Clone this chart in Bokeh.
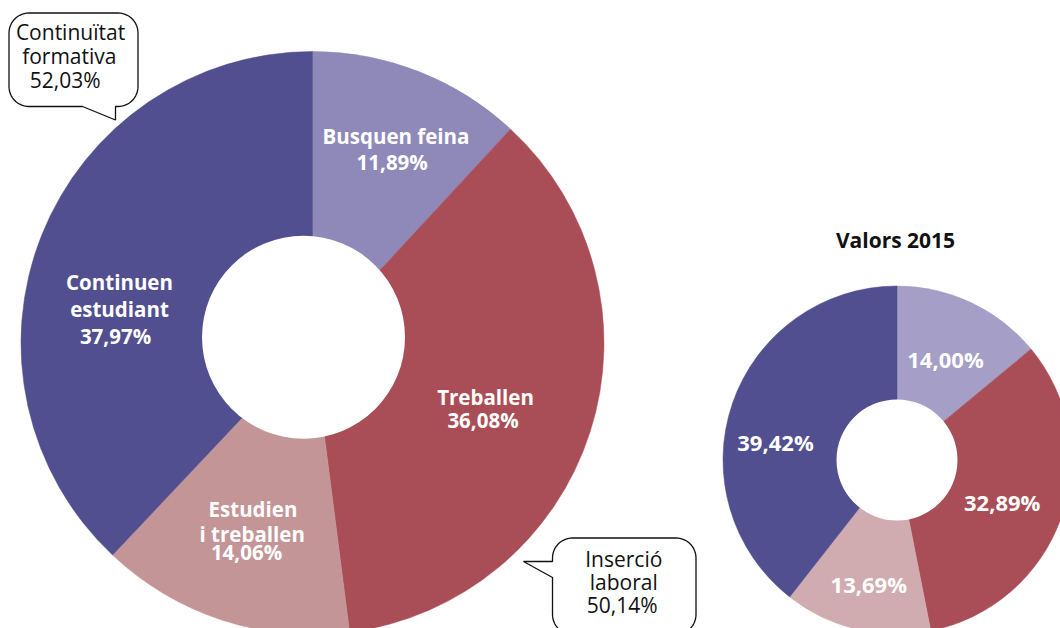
import numpy as np
from bokeh.plotting import figure
from bokeh.models import ColumnDataSource, Range1d
from bokeh.core.properties import value
from bokeh.embed import file_html
from bokeh.resources import INLINE

# ---------------- data ----------------
main_categories = ["Busquen feina", "Treballen", "Estudien i treballen", "Continuen estudiant"]
main_values = [11.89, 36.08, 14.06, 37.97]
main_labels = [["Busquen feina", "11,89%"], ["Treballen", "36,08%"],
               ["Estudien", "i treballen", "14,06%"], ["Continuen", "estudiant", "37,97%"]]
main_colors = ["#8F89B9", "#A94E57", "#C49597", "#514F8F"]

small_title = "Valors 2015"
small_values = [14.00, 32.89, 13.69, 39.42]
small_labels = ["14,00%", "32,89%", "13,69%", "39,42%"]
small_colors = ["#A59EC7", "#A94E57", "#D0ACB0", "#514F8F"]

callout_top = ["Continuïtat", "formativa", "52,03%"]
callout_bottom = ["Inserció", "laboral", "50,14%"]

# ---------------- layout (screen px -> data) ----------------
W, H = 1060, 628
TEXT_SHIFT = -8.5  # correction for baseline placement
def sy(y):
    return H - y

p = figure(width=W, height=H, output_backend="svg", toolbar_location=None,
           x_range=Range1d(0, W), y_range=Range1d(0, H),
           x_axis_location=None, y_axis_location=None,
           min_border=0, min_border_left=0, min_border_right=0,
           min_border_top=0, min_border_bottom=0)
p.outline_line_color = None
p.xgrid.visible = False
p.ygrid.visible = False
p.background_fill_color = "white"
p.border_fill_color = "white"

FONT = value("Open Sans")

def donut(values, colors, cx, cy, R):
    v = np.array(values, dtype=float)
    frac = v / v.sum()
    cum = np.concatenate([[0], np.cumsum(frac)])
    start = np.pi / 2 - cum[:-1] * 2 * np.pi
    end = np.pi / 2 - cum[1:] * 2 * np.pi
    src = ColumnDataSource(dict(start=start, end=end, color=colors))
    p.wedge(x=cx, y=sy(cy), radius=R, start_angle="start", end_angle="end",
            direction="clock", fill_color="color", line_color="color",
            line_width=0.5, source=src)

# main donut
MCX, MCY, MR = 312, 342.5, 291.5
donut(main_values, main_colors, MCX, MCY, MR)
p.circle(x=[303], y=[sy(336.7)], radius=101.5, fill_color="white", line_color=None)

# small donut
SCX, SCY, SR = 896.5, 459.5, 174
donut(small_values, small_colors, SCX, SCY, SR)
p.circle(x=[SCX], y=[sy(SCY)], radius=60.5, fill_color="white", line_color=None)

def put_text(xs, ys, texts, size, style, color):
    p.text(x=xs, y=[sy(y + TEXT_SHIFT) for y in ys], text=texts, text_font=FONT,
           text_font_size=value(size), text_font_style=style, text_color=color,
           text_align="center", text_baseline="alphabetic")

# main labels (line centre x, baselines)
main_pos = [
    ([395.5, 391.7], [144.3, 170.0]),
    ([485.0, 482.5], [405.0, 428.3]),
    ([252.5, 251.7, 246.0], [516.7, 541.7, 560.0]),
    ([119.0, 119.0, 115.0], [290.0, 316.7, 344.3]),
]
for lines, (xs, ys) in zip(main_labels, main_pos):
    put_text(xs, ys, lines, "20.5px", "bold", "white")

# small labels
small_pos = [(945.0, 366.7), (1001.7, 510.0), (868.3, 592.0), (775.0, 450.0)]
put_text([q[0] for q in small_pos], [q[1] for q in small_pos], small_labels, "22px", "bold", "white")

# small title
put_text([895.0], [248.3], [small_title], "21px", "bold", "#111111")

# ---------------- callout bubbles ----------------
def bubble(x0, y0, x1, y1, r, edge, tail):
    pts = []
    def arc(cx, cy, a0, a1):
        for t in np.linspace(a0, a1, 14):
            pts.append((cx + r * np.cos(t), cy + r * np.sin(t)))
    arc(x0 + r, y0 + r, np.pi, 1.5 * np.pi)
    arc(x1 - r, y0 + r, 1.5 * np.pi, 2 * np.pi)
    arc(x1 - r, y1 - r, 0, 0.5 * np.pi)
    if edge == "bottom":
        pts.extend(tail)
    arc(x0 + r, y1 - r, 0.5 * np.pi, np.pi)
    if edge == "left":
        pts.extend(tail)
    xs = [q[0] for q in pts] + [pts[0][0]]
    ys = [sy(q[1]) for q in pts] + [sy(pts[0][1])]
    p.patch(xs, ys, fill_color="white", line_color="#111111", line_width=1.3)

bubble(8.5, 12.5, 137.5, 106, 20, "bottom", [(115, 106), (115, 119.5), (82, 106)])
bubble(552, 537.5, 695.5, 634, 20, "left", [(552, 577), (523, 561), (552, 561)])

put_text([70.0, 68.8, 64.7], [40.0, 63.8, 88.0], callout_top, "21px", "normal", "#111111")
put_text([623.3, 623.3, 621.7], [566.7, 590.0, 613.3], callout_bottom, "21px", "normal", "#111111")

open("out.html", "w").write(file_html(p, INLINE))
